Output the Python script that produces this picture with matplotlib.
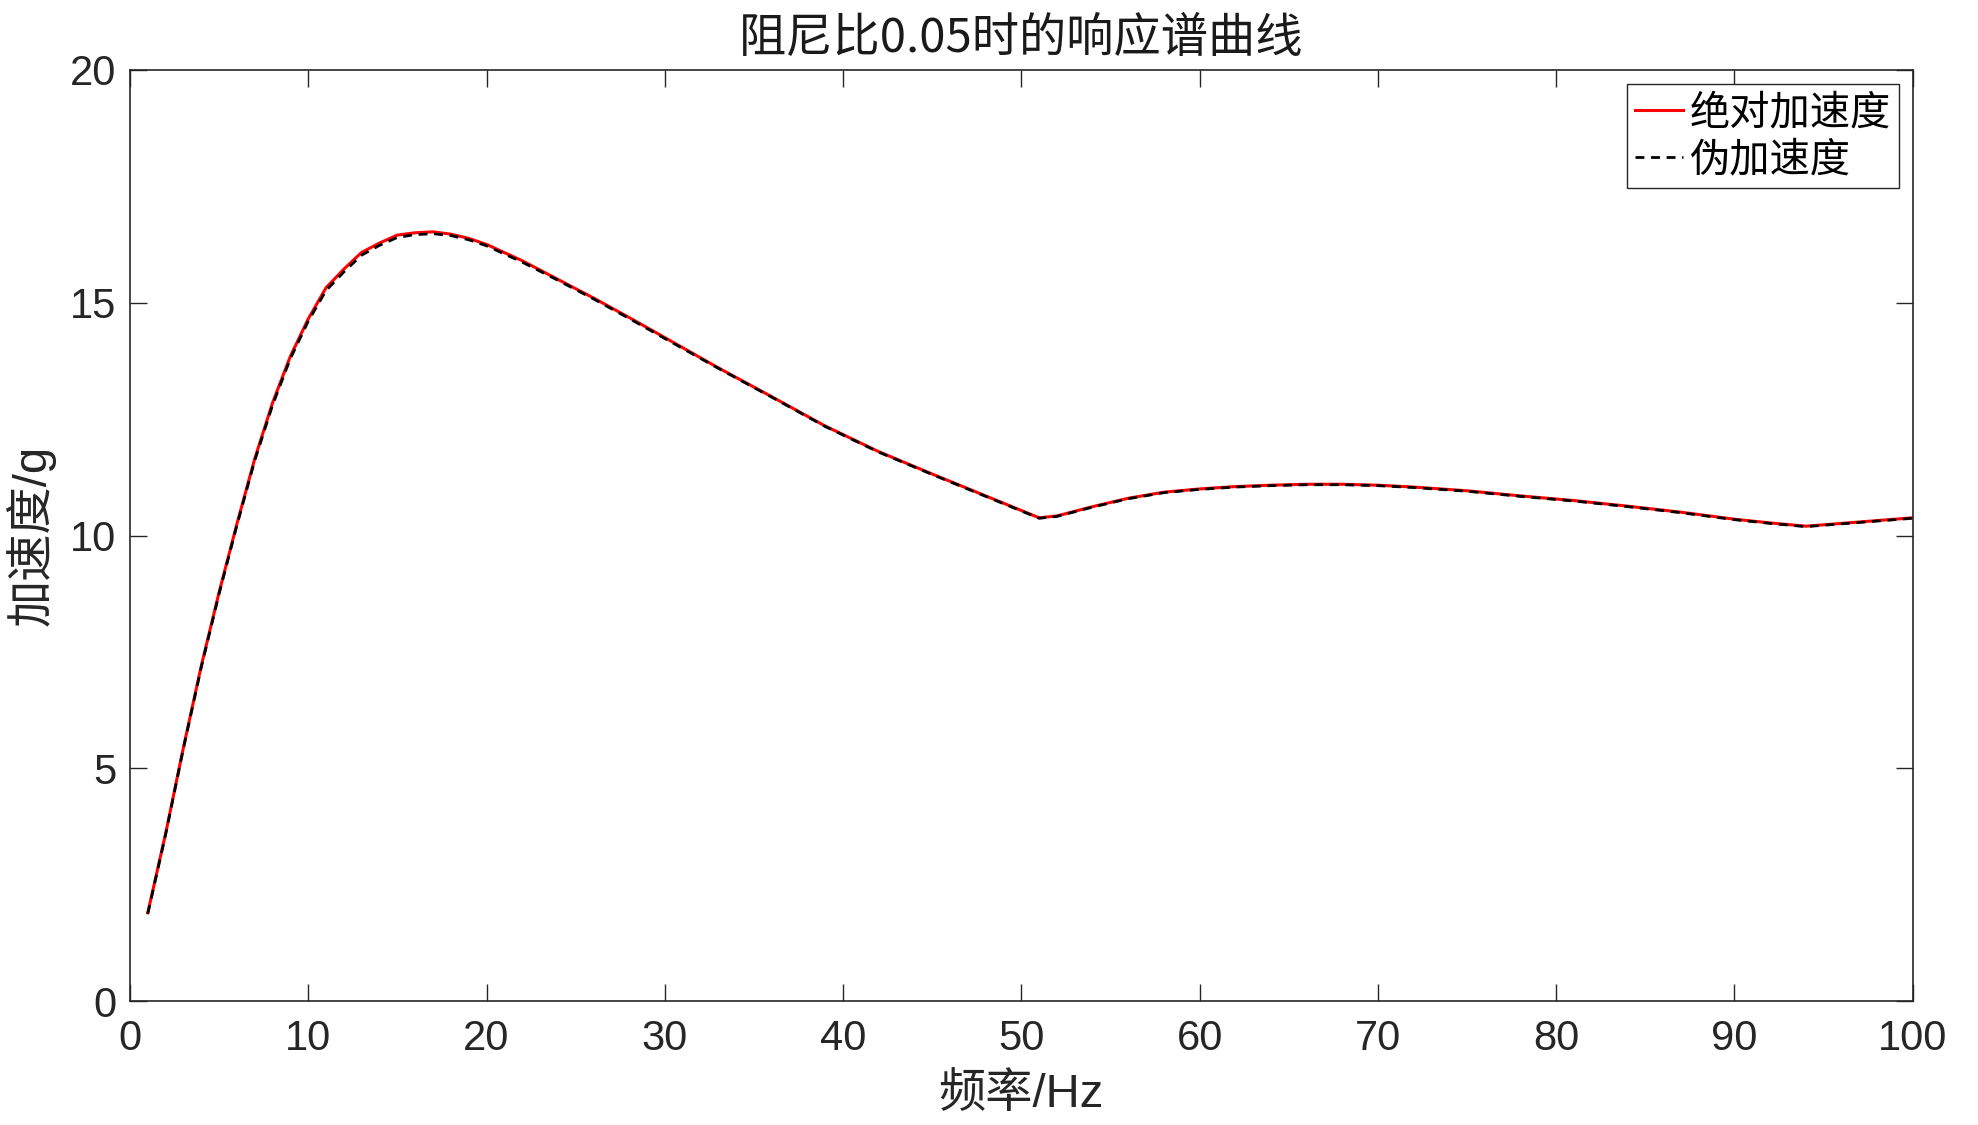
import matplotlib
matplotlib.use("Agg")
import matplotlib.pyplot as plt

plt.rcParams['font.family'] = ['Liberation Sans', 'Noto Sans CJK SC', 'DejaVu Sans']

# 频率 (Hz)
freq = [1, 2, 3, 4, 5, 6, 7, 8, 9, 10, 11, 12, 13, 14, 15, 16, 17, 18, 19, 20,
        22, 24, 26, 28, 30, 33, 36, 39, 42, 45, 48, 51, 52, 54, 56, 58, 60,
        62, 64, 66, 68, 70, 72, 75, 78, 81, 84, 87, 90, 92, 94, 96, 98, 100]

# 绝对加速度 (g)
abs_acc = [1.9, 3.6, 5.45, 7.2, 8.78, 10.25, 11.65, 12.85, 13.85, 14.65, 15.32,
           15.72, 16.08, 16.28, 16.45, 16.5, 16.52, 16.47, 16.38, 16.25,
           15.9, 15.5, 15.1, 14.68, 14.25, 13.6, 12.98, 12.35, 11.8, 11.32,
           10.85, 10.38, 10.42, 10.62, 10.8, 10.93, 11.0, 11.05, 11.08, 11.1,
           11.1, 11.08, 11.04, 10.96, 10.85, 10.75, 10.63, 10.5, 10.35, 10.27,
           10.2, 10.26, 10.32, 10.38]

# 伪加速度 (g)
pseudo_acc = [1.88, 3.58, 5.43, 7.17, 8.75, 10.22, 11.61, 12.8, 13.8, 14.6, 15.26,
              15.66, 16.02, 16.23, 16.4, 16.46, 16.48, 16.44, 16.35, 16.22,
              15.87, 15.48, 15.08, 14.66, 14.23, 13.59, 12.97, 12.34, 11.79,
              11.31, 10.84, 10.37, 10.41, 10.61, 10.79, 10.92, 10.99, 11.04,
              11.07, 11.09, 11.09, 11.07, 11.03, 10.95, 10.84, 10.74, 10.62,
              10.49, 10.34, 10.26, 10.19, 10.25, 10.31, 10.37]

xticks = [0, 10, 20, 30, 40, 50, 60, 70, 80, 90, 100]
yticks = [0, 5, 10, 15, 20]

cjk = ['Noto Sans CJK SC', 'DejaVu Sans']
mixed = ['Liberation Sans', 'Noto Sans CJK SC', 'DejaVu Sans']

fig = plt.figure(figsize=(19.78, 11.25), dpi=100)
ax = fig.add_axes([0.0657, 0.110, 0.9013, 0.828])

ax.plot(freq, abs_acc, color='red', lw=2.2, label='绝对加速度')
ax.plot(freq, pseudo_acc, color='black', lw=2.0, linestyle=(0, (3.2, 2.4)),
        label='伪加速度')

ax.set_xlim(0, 100)
ax.set_ylim(0, 20)
ax.set_xticks(xticks)
ax.set_yticks(yticks)

for s in ax.spines.values():
    s.set_color('#262626')
    s.set_linewidth(1.2)
ax.tick_params(direction='in', top=True, right=True, length=12, width=1.0,
               color='#262626', labelsize=30, labelcolor='#262626')
ax.tick_params(axis='x', pad=13)
ax.tick_params(axis='y', pad=10)

ax.set_title('阻尼比0.05时的响应谱曲线', fontsize=34, color='#1a1a1a', pad=13,
             family=cjk)
ax.set_xlabel('频率/Hz', fontsize=34, color='#262626', labelpad=10,
              family=mixed)
ax.set_ylabel('加速度/g', fontsize=34, color='#262626', labelpad=10,
              family=mixed)

leg = ax.legend(loc='upper right', handlelength=1.2,
                handletextpad=0.15, borderpad=0.2, labelspacing=0.15,
                borderaxespad=0.35, fancybox=False, framealpha=1,
                edgecolor='#262626',
                prop={'family': cjk, 'size': 29})
leg.get_frame().set_linewidth(1.0)

fig.savefig('out.png', dpi=100, facecolor='white')
